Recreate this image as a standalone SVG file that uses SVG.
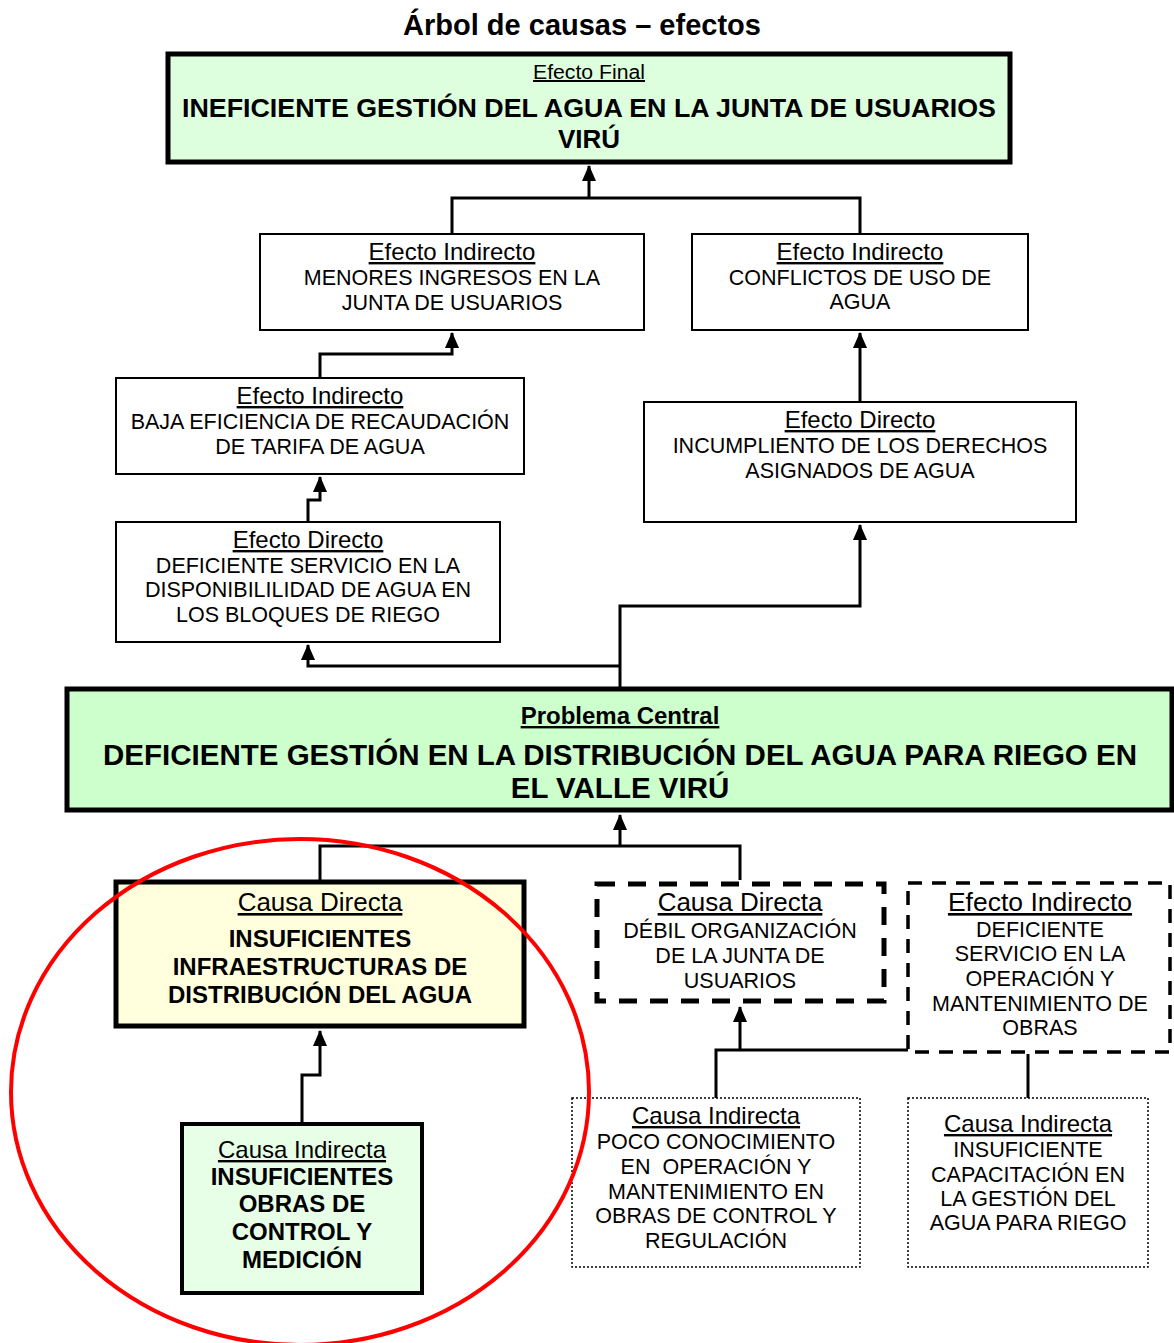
<svg xmlns="http://www.w3.org/2000/svg" width="1174" height="1343" viewBox="0 0 1174 1343">
<style>
text{font-family:"Liberation Sans",Arial,sans-serif;fill:#000;text-anchor:middle}
.lbl{text-decoration:underline}
.n{font-size:21.5px}
.b{font-weight:bold}
.box{stroke:#000;stroke-width:2;fill:#fff}
.conn{fill:none;stroke:#000;stroke-width:3}
</style>
<defs>
<marker id="ah" markerUnits="userSpaceOnUse" markerWidth="16" markerHeight="16" viewBox="0 0 16 16" refX="15" refY="8" orient="auto">
<path d="M16,8 L0,1 L0,15 Z" fill="#000"/>
</marker>
</defs>
<rect width="1174" height="1343" fill="#fff"/>
<text x="582" y="35" class="b" style="font-size:29px">Árbol de causas – efectos</text>

<g id="connectors">
<path class="conn" d="M452,234 V198 H860 V234"/>
<path class="conn" d="M589,198 V166" marker-end="url(#ah)"/>
<path class="conn" d="M320,378 V354 H452 V333" marker-end="url(#ah)"/>
<path class="conn" d="M860,402 V333" marker-end="url(#ah)"/>
<path class="conn" d="M308,522 V500 H320 V477" marker-end="url(#ah)"/>
<path class="conn" d="M620,688 V606 H860 V525" marker-end="url(#ah)"/>
<path class="conn" d="M620,666 H308 V645" marker-end="url(#ah)"/>
<path class="conn" d="M320,880 V846 H740 V880"/>
<path class="conn" d="M620,846 V815" marker-end="url(#ah)"/>
<path class="conn" d="M302,1122 V1075 H320 V1031" marker-end="url(#ah)"/>
<path class="conn" d="M716,1098 V1050 H908"/>
<path class="conn" d="M740,1050 V1007" marker-end="url(#ah)"/>
<path class="conn" d="M1028,1054 V1098"/>
</g>

<g id="efecto-final">
<rect x="168" y="54" width="842" height="108" fill="#ddffdd" stroke="#000" stroke-width="5"/>
<text x="589" y="79" class="lbl" style="font-size:20px" textLength="112" lengthAdjust="spacingAndGlyphs">Efecto Final</text>
<text x="589" y="117" class="b" style="font-size:26px" textLength="814" lengthAdjust="spacingAndGlyphs">INEFICIENTE GESTIÓN DEL AGUA EN LA JUNTA DE USUARIOS</text>
<text x="589" y="148" class="b" style="font-size:26px">VIRÚ</text>
</g>

<g id="ei-menores-ingresos">
<rect class="box" x="260" y="234" width="384" height="96"/>
<text x="452" y="260" class="lbl" style="font-size:24px">Efecto Indirecto</text>
<text x="452" y="285" class="n">MENORES INGRESOS EN LA</text>
<text x="452" y="310" class="n">JUNTA DE USUARIOS</text>
</g>

<g id="ei-conflictos">
<rect class="box" x="692" y="234" width="336" height="96"/>
<text x="860" y="260" class="lbl" style="font-size:24px">Efecto Indirecto</text>
<text x="860" y="285" class="n">CONFLICTOS DE USO DE</text>
<text x="860" y="309" class="n">AGUA</text>
</g>

<g id="ei-baja-eficiencia">
<rect class="box" x="116" y="378" width="408" height="96"/>
<text x="320" y="404" class="lbl" style="font-size:24px">Efecto Indirecto</text>
<text x="320" y="429" class="n">BAJA EFICIENCIA DE RECAUDACIÓN</text>
<text x="320" y="454" class="n">DE TARIFA DE AGUA</text>
</g>

<g id="ed-incumplimiento">
<rect class="box" x="644" y="402" width="432" height="120"/>
<text x="860" y="428" class="lbl" style="font-size:24px">Efecto Directo</text>
<text x="860" y="453" class="n">INCUMPLIENTO DE LOS DERECHOS</text>
<text x="860" y="478" class="n">ASIGNADOS DE AGUA</text>
</g>

<g id="ed-deficiente-servicio">
<rect class="box" x="116" y="522" width="384" height="120"/>
<text x="308" y="548" class="lbl" style="font-size:24px">Efecto Directo</text>
<text x="308" y="573" class="n">DEFICIENTE SERVICIO EN LA</text>
<text x="308" y="597" class="n">DISPONIBILILIDAD DE AGUA EN</text>
<text x="308" y="622" class="n">LOS BLOQUES DE RIEGO</text>
</g>

<g id="problema-central">
<rect x="67" y="689" width="1105" height="121" fill="#ccffcc" stroke="#000" stroke-width="5"/>
<text x="620" y="724" class="b lbl" style="font-size:24px">Problema Central</text>
<text x="620" y="765" class="b" style="font-size:29px" textLength="1034" lengthAdjust="spacingAndGlyphs">DEFICIENTE GESTIÓN EN LA DISTRIBUCIÓN DEL AGUA PARA RIEGO EN</text>
<text x="620" y="798" class="b" style="font-size:29.5px">EL VALLE VIRÚ</text>
</g>

<g id="cd-infraestructuras">
<rect x="116" y="882" width="408" height="144" fill="#ffffdd" stroke="#000" stroke-width="5"/>
<text x="320" y="911" class="lbl" style="font-size:26px">Causa Directa</text>
<text x="320" y="947" class="b" style="font-size:24px">INSUFICIENTES</text>
<text x="320" y="975" class="b" style="font-size:24px">INFRAESTRUCTURAS DE</text>
<text x="320" y="1003" class="b" style="font-size:24px">DISTRIBUCIÓN DEL AGUA</text>
</g>

<g id="cd-debil-organizacion">
<rect x="597" y="884" width="287" height="117" fill="#fff" stroke="#000" stroke-width="5" stroke-dasharray="18,13"/>
<text x="740" y="911" class="lbl" style="font-size:26px">Causa Directa</text>
<text x="740" y="938" class="n">DÉBIL ORGANIZACIÓN</text>
<text x="740" y="963" class="n">DE LA JUNTA DE</text>
<text x="740" y="988" class="n">USUARIOS</text>
</g>

<g id="ei-operacion-mantenimiento">
<rect x="908" y="883" width="262" height="169" fill="#fff" stroke="#000" stroke-width="3.5" stroke-dasharray="14,10"/>
<text x="1040" y="911" class="lbl" style="font-size:26.5px">Efecto Indirecto</text>
<text x="1040" y="937" class="n">DEFICIENTE</text>
<text x="1040" y="961" class="n">SERVICIO EN LA</text>
<text x="1040" y="986" class="n">OPERACIÓN Y</text>
<text x="1040" y="1011" class="n">MANTENIMIENTO DE</text>
<text x="1040" y="1035" class="n">OBRAS</text>
</g>

<g id="ci-obras-control">
<rect x="182" y="1124" width="240" height="169" fill="#e6ffe6" stroke="#000" stroke-width="4"/>
<text x="302" y="1158" class="lbl" style="font-size:24px">Causa Indirecta</text>
<text x="302" y="1185" class="b" style="font-size:24px">INSUFICIENTES</text>
<text x="302" y="1212" class="b" style="font-size:24px">OBRAS DE</text>
<text x="302" y="1240" class="b" style="font-size:24px">CONTROL Y</text>
<text x="302" y="1268" class="b" style="font-size:24px">MEDICIÓN</text>
</g>

<g id="ci-poco-conocimiento">
<rect x="572" y="1098" width="288" height="169" fill="#fff" stroke="#000" stroke-width="1.5" stroke-dasharray="2,2"/>
<text x="716" y="1124" class="lbl" style="font-size:24px">Causa Indirecta</text>
<text x="716" y="1149" class="n">POCO CONOCIMIENTO</text>
<text x="716" y="1174" class="n" xml:space="preserve">EN  OPERACIÓN Y</text>
<text x="716" y="1199" class="n">MANTENIMIENTO EN</text>
<text x="716" y="1223" class="n">OBRAS DE CONTROL Y</text>
<text x="716" y="1248" class="n">REGULACIÓN</text>
</g>

<g id="ci-capacitacion">
<rect x="908" y="1098" width="240" height="169" fill="#fff" stroke="#000" stroke-width="1.5" stroke-dasharray="2,2"/>
<text x="1028" y="1132" class="lbl" style="font-size:24px">Causa Indirecta</text>
<text x="1028" y="1157" class="n">INSUFICIENTE</text>
<text x="1028" y="1182" class="n">CAPACITACIÓN EN</text>
<text x="1028" y="1206" class="n">LA GESTIÓN DEL</text>
<text x="1028" y="1230" class="n">AGUA PARA RIEGO</text>
</g>

<ellipse cx="300" cy="1092" rx="289" ry="253" fill="none" stroke="#ff0000" stroke-width="4"/>
</svg>
